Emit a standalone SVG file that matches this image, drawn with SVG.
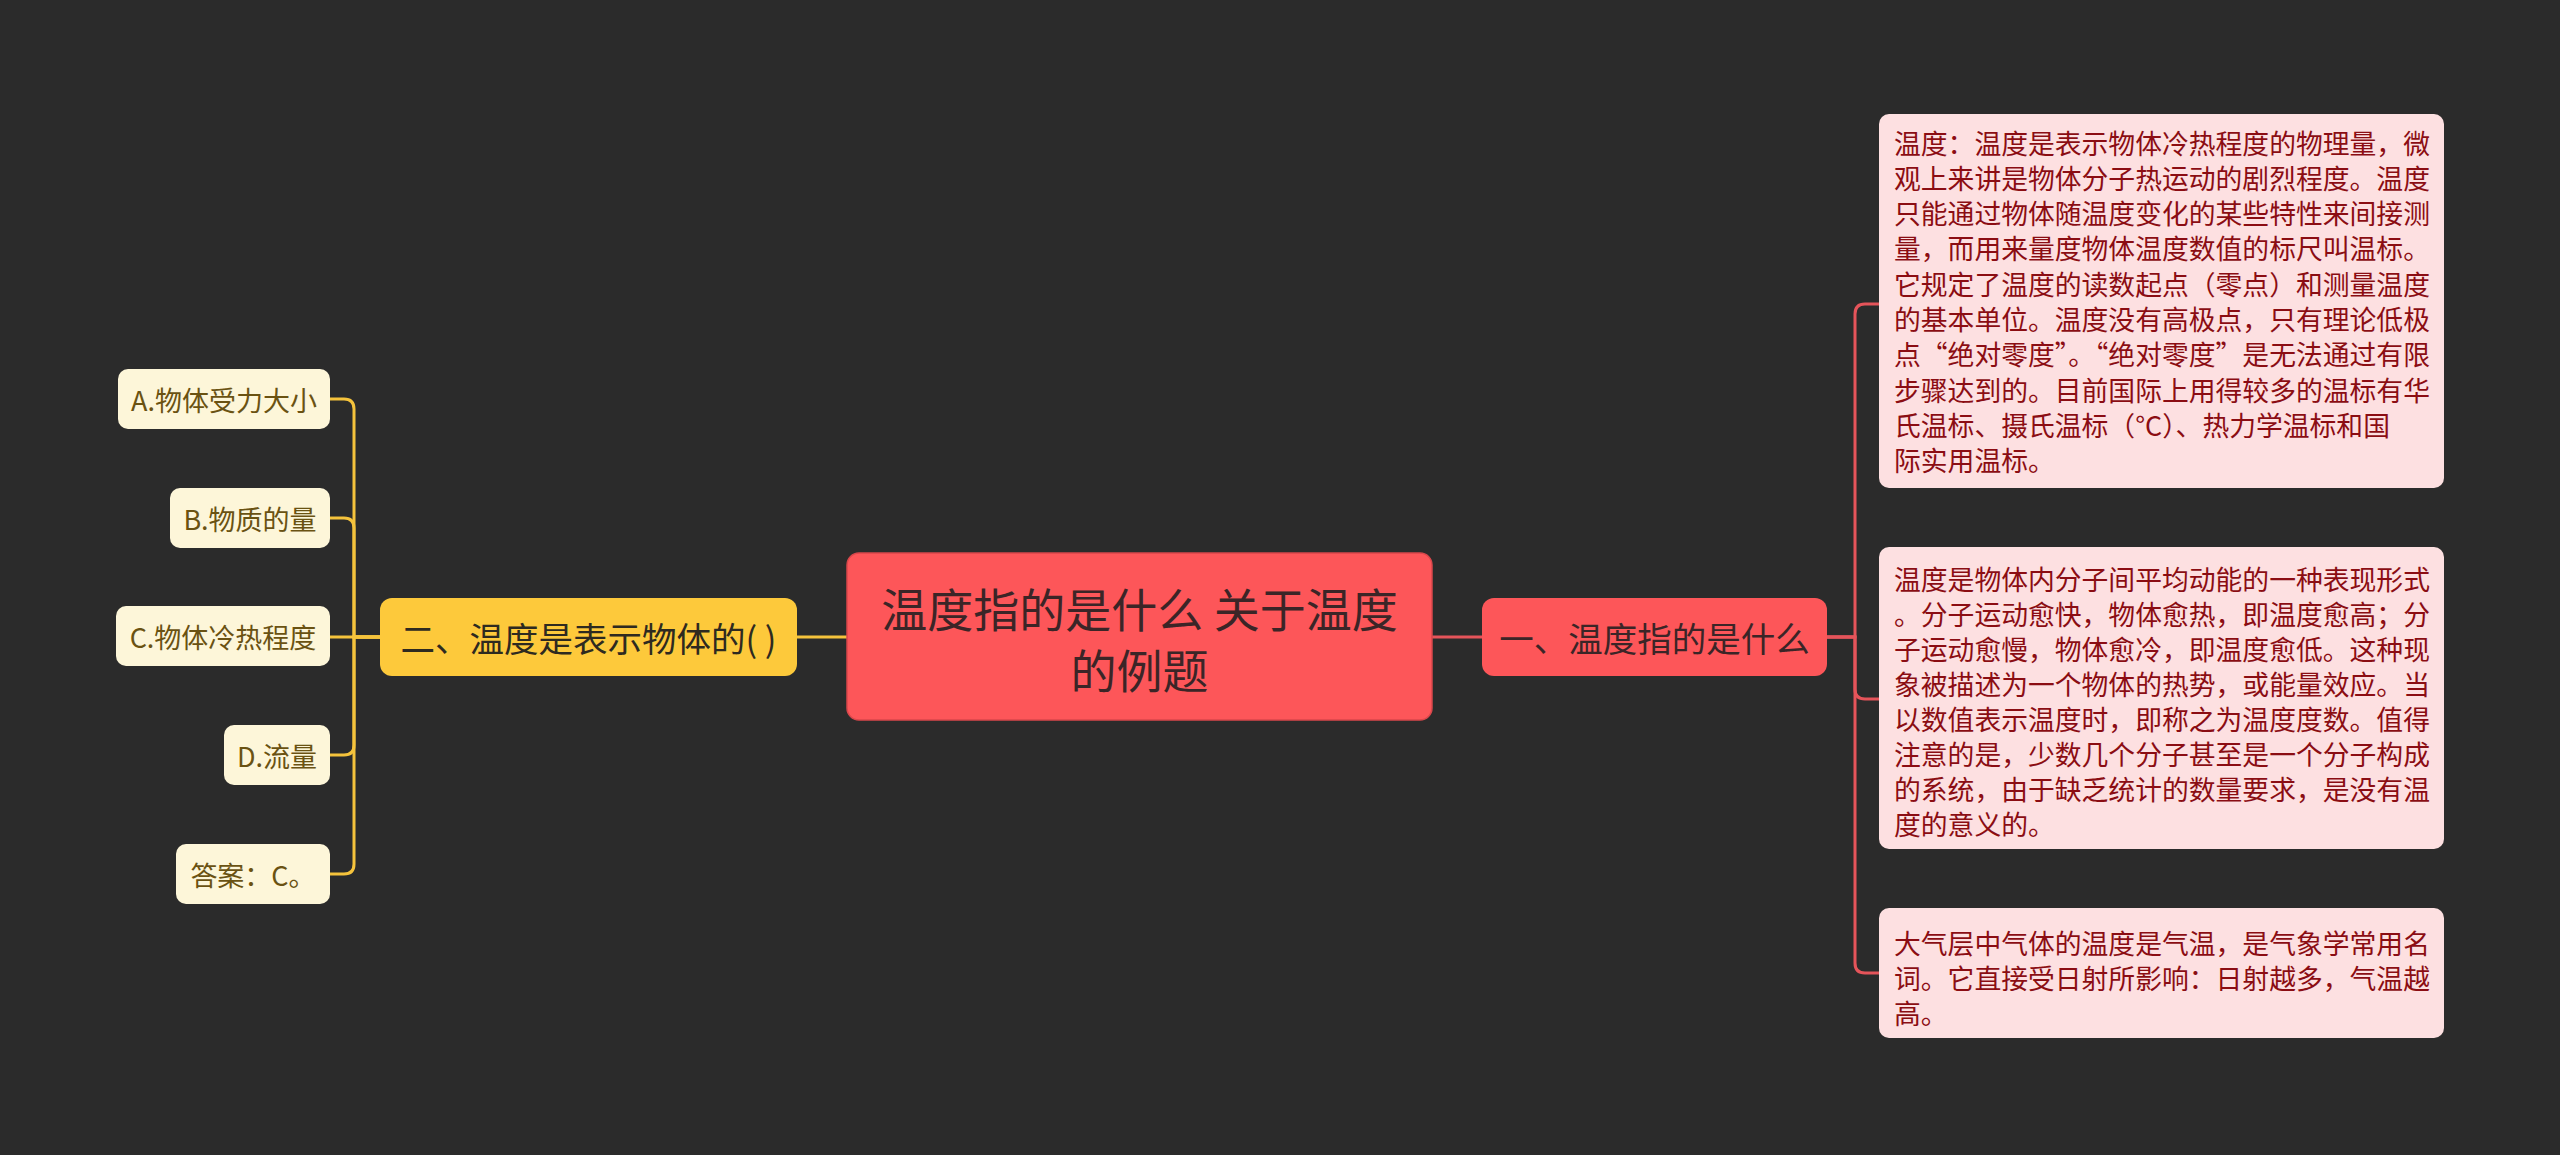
<svg xmlns="http://www.w3.org/2000/svg" width="2560" height="1155" viewBox="0 0 2560 1155">
<style>
text{font-family:"Noto Sans CJK SC","Noto Sans",sans-serif;dominant-baseline:central}
.root rect{fill:#fd5659;stroke:#d9474b;stroke-width:1.5}
.root text{fill:#3b2527;font-size:46px;text-anchor:middle}
.sub1 rect{fill:#fd5659}
.sub1 text{fill:#3b2527;font-size:34.5px;text-anchor:middle}
.sub2 rect{fill:#fdc93b}
.sub2 text{fill:#2e2a20;font-size:34.5px;text-anchor:middle}
.leafR rect{fill:#fde0e1}
.leafR text{fill:#8b0d13;font-size:26.8px}
.leafL rect{fill:#fdf6d9}
.leafL text{fill:#6a5212;font-size:27px;text-anchor:middle}
.cr{fill:none;stroke:#e5545a;stroke-width:3}
.cy{fill:none;stroke:#f5c33c;stroke-width:3}
</style>
<rect width="2560" height="1155" fill="#2b2b2b"/>
<g id="connectors">
<path class="cr" d="M1432,637 H1482"/>
<path class="cr" d="M1827,637 H1855 V314 Q1855,304 1865,304 H1879"/>
<path class="cr" d="M1827,637 H1855 V689 Q1855,699 1865,699 H1879"/>
<path class="cr" d="M1827,637 H1855 V963 Q1855,973 1865,973 H1879"/>
<path class="cy" d="M847,637 H797"/>
<path class="cy" d="M330,399 H344 Q354,399 354,409 V637 H380"/>
<path class="cy" d="M330,518 H344 Q354,518 354,528 V637 H380"/>
<path class="cy" d="M330,637 H380"/>
<path class="cy" d="M330,755 H344 Q354,755 354,745 V637 H380"/>
<path class="cy" d="M330,874 H344 Q354,874 354,864 V637 H380"/>
</g>
<g id="root" class="root">
<rect x="847" y="553" width="585" height="167" rx="12"/>
<text x="1139.5" y="607">温度指的是什么 关于温度</text>
<text x="1139.5" y="668">的例题</text>
</g>
<g id="n1" class="sub1">
<rect x="1482" y="598" width="345" height="78" rx="12"/>
<text x="1654.5" y="637">一、温度指的是什么</text>
</g>
<g id="n2" class="sub2">
<rect x="380" y="598" width="417" height="78" rx="12"/>
<text x="588.5" y="637">二、温度是表示物体的( )</text>
</g>
<g id="r1" class="leafR">
<rect x="1879" y="114" width="565" height="374" rx="10"/>
<text x="1894" y="142">温度：温度是表示物体冷热程度的物理量，微</text>
<text x="1894" y="177.3">观上来讲是物体分子热运动的剧烈程度。温度</text>
<text x="1894" y="212.6">只能通过物体随温度变化的某些特性来间接测</text>
<text x="1894" y="247.9">量，而用来量度物体温度数值的标尺叫温标。</text>
<text x="1894" y="283.2">它规定了温度的读数起点（零点）和测量温度</text>
<text x="1894" y="318.5">的基本单位。温度没有高极点，只有理论低极</text>
<text x="1894" y="353.8">点“绝对零度”。“绝对零度”是无法通过有限</text>
<text x="1894" y="389.1">步骤达到的。目前国际上用得较多的温标有华</text>
<text x="1894" y="424.4">氏温标、摄氏温标（°C）、热力学温标和国</text>
<text x="1894" y="459.7">际实用温标。</text>
</g>
<g id="r2" class="leafR">
<rect x="1879" y="547" width="565" height="302" rx="10"/>
<text x="1894" y="578">温度是物体内分子间平均动能的一种表现形式</text>
<text x="1894" y="613">。分子运动愈快，物体愈热，即温度愈高；分</text>
<text x="1894" y="648">子运动愈慢，物体愈冷，即温度愈低。这种现</text>
<text x="1894" y="683">象被描述为一个物体的热势，或能量效应。当</text>
<text x="1894" y="718">以数值表示温度时，即称之为温度度数。值得</text>
<text x="1894" y="753">注意的是，少数几个分子甚至是一个分子构成</text>
<text x="1894" y="788">的系统，由于缺乏统计的数量要求，是没有温</text>
<text x="1894" y="823">度的意义的。</text>
</g>
<g id="r3" class="leafR">
<rect x="1879" y="908" width="565" height="130" rx="10"/>
<text x="1894" y="942">大气层中气体的温度是气温，是气象学常用名</text>
<text x="1894" y="977">词。它直接受日射所影响：日射越多，气温越</text>
<text x="1894" y="1012">高。</text>
</g>
<g id="la" class="leafL">
<rect x="118" y="369" width="212" height="60" rx="10"/>
<text x="224" y="399">A.物体受力大小</text>
</g>
<g id="lb" class="leafL">
<rect x="170" y="488" width="160" height="60" rx="10"/>
<text x="250" y="518">B.物质的量</text>
</g>
<g id="lc" class="leafL">
<rect x="116" y="606" width="214" height="60" rx="10"/>
<text x="223" y="636">C.物体冷热程度</text>
</g>
<g id="ld" class="leafL">
<rect x="224" y="725" width="106" height="60" rx="10"/>
<text x="277" y="755">D.流量</text>
</g>
<g id="le" class="leafL">
<rect x="176" y="844" width="154" height="60" rx="10"/>
<text x="253" y="874">答案：C。</text>
</g>
</svg>
